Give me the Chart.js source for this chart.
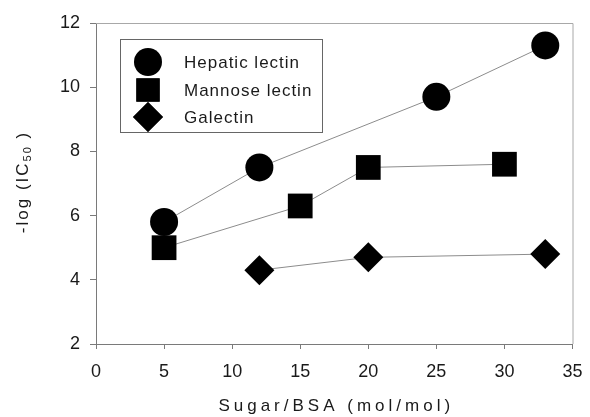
<!DOCTYPE html>
<html>
<head>
<meta charset="utf-8">
<script src="https://cdn.jsdelivr.net/npm/chart.js@4/dist/chart.umd.min.js"></script>
<style>
  html, body { margin: 0; padding: 0; background: #fff; }
  #wrap { width: 590px; height: 417px; position: relative; }
</style>
</head>
<body>
<div id="wrap"><canvas id="c" width="590" height="417"></canvas></div>
<script>
// ---- data ----
const seriesNames = ["Hepatic lectin", "Mannose lectin", "Galectin"];
const hepaticX = [5, 12, 25, 33];
const hepaticY = [5.8, 7.5, 9.7, 11.3];
const mannoseX = [5, 15, 20, 30];
const mannoseY = [5.0, 6.3, 7.5, 7.6];
const galectinX = [12, 20, 33];
const galectinY = [4.3, 4.7, 4.8];
const xTicks = [0, 5, 10, 15, 20, 25, 30, 35];
const yTicks = [2, 4, 6, 8, 10, 12];
const xTitle = "Sugar/BSA (mol/mol)";
const yTitleMain = "-log (IC";
const yTitleSub = "50";
const yTitleEnd = " )";

function pts(xs, ys) { return xs.map((x, i) => ({ x: x, y: ys[i] })); }

const styles = [
  { pointStyle: 'circle', pointRadius: 14 },
  { pointStyle: 'rect', pointRadius: 17.5 },
  { pointStyle: 'rectRot', pointRadius: 15 }
];

const datasets = [
  pts(hepaticX, hepaticY),
  pts(mannoseX, mannoseY),
  pts(galectinX, galectinY)
].map((d, i) => ({
  label: seriesNames[i],
  data: d,
  showLine: true,
  borderColor: '#8c8c8c',
  borderWidth: 1,
  backgroundColor: '#000',
  pointBackgroundColor: '#000',
  pointBorderColor: '#000',
  pointBorderWidth: 0,
  pointStyle: styles[i].pointStyle,
  pointRadius: styles[i].pointRadius,
  pointHoverRadius: styles[i].pointRadius,
  clip: false
}));

const AXIS = '#7a7a7a';
const TEXT = '#1a1a1a';
const FAMILY = '"Liberation Sans", Arial, sans-serif';

const framePlugin = {
  id: 'frame',
  beforeDatasetsDraw(chart) {
    const { ctx, chartArea: a } = chart;
    ctx.save();
    ctx.strokeStyle = '#a8a8a8';
    ctx.lineWidth = 1;
    ctx.beginPath();
    ctx.moveTo(a.left, a.top + 0.5);
    ctx.lineTo(a.right + 0.5, a.top + 0.5);
    ctx.lineTo(a.right + 0.5, a.bottom);
    ctx.stroke();
    ctx.restore();
  }
};

const legendPlugin = {
  id: 'boxLegend',
  afterDatasetsDraw(chart) {
    const ctx = chart.ctx;
    const box = { x: 120.5, y: 39.5, w: 202, h: 93 };
    ctx.save();
    ctx.fillStyle = '#fff';
    ctx.fillRect(box.x, box.y, box.w, box.h);
    ctx.strokeStyle = '#666';
    ctx.lineWidth = 1;
    ctx.strokeRect(box.x, box.y, box.w, box.h);
    const rows = [62, 90, 117];
    chart.data.datasets.forEach((ds, i) => {
      Chart.helpers.drawPoint(ctx, {
        pointStyle: ds.pointStyle,
        radius: ds.pointRadius - (i === 1 ? 1 : 0),
        rotation: 0,
        borderWidth: 0
      }, 148, rows[i]);
      ctx.fillStyle = '#000';
      ctx.fill();
      ctx.fillStyle = TEXT;
      ctx.font = '17px ' + FAMILY;
      ctx.letterSpacing = '1px';
      ctx.textBaseline = 'middle';
      ctx.textAlign = 'left';
      ctx.fillText(ds.label, 184, rows[i] + 1);
    });
    ctx.restore();
  }
};

const titlesPlugin = {
  id: 'axisTitles',
  afterDraw(chart) {
    const ctx = chart.ctx;
    const a = chart.chartArea;
    ctx.save();
    ctx.fillStyle = TEXT;
    ctx.textBaseline = 'middle';
    // x title
    ctx.font = '17px ' + FAMILY;
    ctx.letterSpacing = '4px';
    ctx.textAlign = 'center';
    ctx.fillText(xTitle, (a.left + a.right) / 2 + 2, 406);
    // y title rotated
    ctx.translate(23, 182);
    ctx.rotate(-Math.PI / 2);
    ctx.textAlign = 'left';
    ctx.letterSpacing = '2px';
    const fMain = '17px ' + FAMILY;
    const fSub = '11px ' + FAMILY;
    ctx.font = fMain;
    const w1 = ctx.measureText(yTitleMain).width;
    const w3 = ctx.measureText(yTitleEnd).width;
    ctx.font = fSub;
    const w2 = ctx.measureText(yTitleSub).width;
    let x = -(w1 + w2 + w3) / 2;
    ctx.font = fMain;
    ctx.fillText(yTitleMain, x, 0);
    x += w1;
    ctx.font = fSub;
    ctx.fillText(yTitleSub, x, 5);
    x += w2;
    ctx.font = fMain;
    ctx.fillText(yTitleEnd, x, 0);
    ctx.restore();
  }
};

new Chart(document.getElementById('c'), {
  type: 'scatter',
  data: { datasets: datasets },
  options: {
    responsive: false,
    animation: false,
    events: [],
    layout: { padding: { top: 23, right: 14, left: 0, bottom: 0 } },
    plugins: { legend: { display: false }, tooltip: { enabled: false } },
    scales: {
      x: {
        type: 'linear',
        min: 0, max: 35,
        afterBuildTicks(scale) { scale.ticks = xTicks.map(v => ({ value: v })); },
        afterFit(scale) { scale.height = 73; scale.paddingLeft = 0; scale.paddingRight = 0; },
        ticks: {
          color: TEXT,
          font: { size: 18, family: FAMILY },
          padding: 12,
          maxRotation: 0,
          autoSkip: false
        },
        grid: { drawOnChartArea: false, drawTicks: true, tickLength: 5, color: AXIS },
        border: { display: true, color: AXIS, width: 1 }
      },
      y: {
        type: 'linear',
        min: 2, max: 12,
        afterBuildTicks(scale) { scale.ticks = yTicks.map(v => ({ value: v })); },
        afterFit(scale) { scale.width = 96; scale.paddingTop = 0; scale.paddingBottom = 0; },
        ticks: {
          color: TEXT,
          font: { size: 18, family: FAMILY },
          padding: 10,
          autoSkip: false
        },
        grid: { drawOnChartArea: false, drawTicks: true, tickLength: 6, color: AXIS },
        border: { display: true, color: AXIS, width: 1 }
      }
    }
  },
  plugins: [framePlugin, legendPlugin, titlesPlugin]
});
</script>
</body>
</html>
